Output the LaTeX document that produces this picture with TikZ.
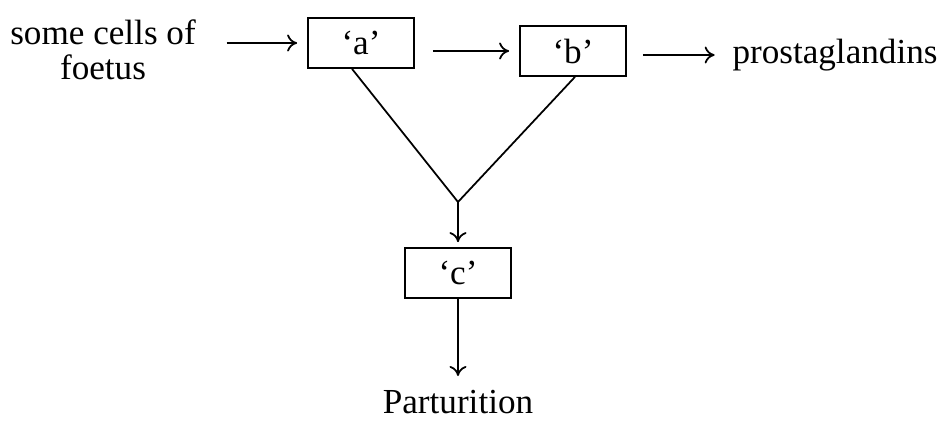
\documentclass[tikz,border=0pt]{standalone}
\usepackage{fontspec}
\setmainfont{Liberation Serif}
\usetikzlibrary{arrows.meta,positioning}

\begin{document}
\begin{tikzpicture}[x=0.02cm, y=-0.02cm, line width=1pt, font=\fontsize{20}{20}\selectfont]

		\tikzstyle{box}=[rectangle, draw, text=black, minimum width=2.12cm, minimum height=1cm, inner sep=0pt]
		\tikzstyle{lbl}=[inner sep=0pt, align=center]
		\tikzstyle{flow}=[-{To[length=2mm, width=3.4mm]}]

		\useasboundingbox (0,0) rectangle (945,422);

		% the boxes
		\node[box] (a) at (361,43)  {‘a’};
		\node[box] (b) at (573,51)  {‘b’};
		\node[box] (c) at (458,273) {‘c’};

		% the plain texts
		\node[lbl] (src)  at (103,50)  {some cells of\\foetus};
		\node[lbl] (prost) at (835,55) {prostaglandins};
		\node[lbl, anchor=north] (part) at (458,389) {Parturition};

		\coordinate (j) at (458,202);

		% Top row
		\draw[flow, shorten <=0.6cm, shorten >=0.2cm] (src.east |- a.west) -- (a.west);
		\draw[flow, shorten <=0.36cm, shorten >=0.2cm] (a.east |- b.west) -- (b.west);
		\draw[flow, shorten <=0.32cm, shorten >=0.34cm] (b.east |- prost.west) -- (prost.west);

		% the two lines meeting below
		\draw ([xshift=-0.18cm]a.south) -- (j) -- ([xshift=0.04cm]b.south);
		\draw[flow, shorten >=0.1cm] (j) -- (c.north);
		\draw[flow, shorten >=0.26cm] (c.south) -- (part.north);
\end{tikzpicture}
\end{document}
